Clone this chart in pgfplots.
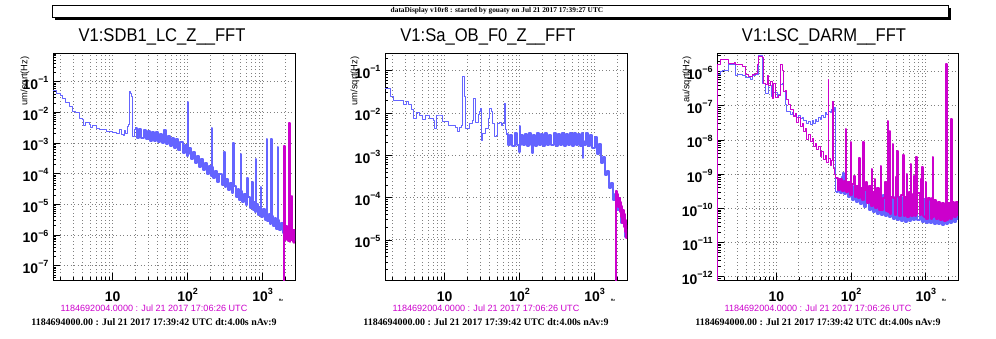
\documentclass[border=0pt]{standalone}
\usepackage{fontspec}
\setmainfont{Liberation Sans}
\newfontfamily\timesf{Liberation Serif}
\newfontfamily\titlefont[FakeStretch=0.9]{Liberation Sans}
\usepackage{pgfplots}
\pgfplotsset{compat=1.18}
\usepackage{pgfplotstable}
\definecolor{cblue}{RGB}{100,100,255}
\definecolor{cmag}{RGB}{204,0,204}
\newcommand{\tenp}[1]{10\raisebox{0.48em}{\fontsize{9}{9}\selectfont\bfseries #1}}

% ---------------- Panel 1 data ----------------
\pgfplotstableread[row sep=\\]{
x y\\
1.6 0.05\\ 1.79 0.04\\ 2.0 0.035\\ 2.15 0.029\\ 2.38 0.021\\ 2.64 0.015\\ 2.87 0.011\\ 3.17 0.0098\\
3.59 0.0064\\ 3.9 0.006\\ 4.05 0.0036\\ 4.4 0.0048\\ 4.87 0.004\\ 5.1 0.0032\\ 5.4 0.0037\\ 6.1 0.003\\
6.6 0.0028\\ 7.4 0.0027\\ 8.2 0.0024\\ 9.2 0.0023\\ 10 0.0022\\ 11.3 0.0021\\ 12.5 0.0027\\ 13.2 0.0019\\
13.8 0.0018\\ 14.5 0.0026\\ 15 0.002\\ 15.6 0.0035\\ 16.3 0.0039\\ 17.0 0.047\\ 17.5 0.04\\ 17.9 0.033\\
18.5 0.0016\\ 19.8 0.0027\\ 20 3.0e-3\\
}\pA
\pgfplotstableread[row sep=\\]{
x y\\
20 3.0e-3\\ 21.3 1.5e-3\\ 22.7 2.9e-3\\ 24.2 1.45e-3\\ 25.8 2.7e-3\\ 27.5 1.35e-3\\ 29.3 2.5e-3\\ 31.2 1.2e-3\\
33.2 2.3e-3\\ 35.4 1.15e-3\\ 37.7 2.2e-3\\ 40.1 1.05e-3\\ 42.7 2.0e-3\\ 45.5 1.0e-3\\ 48.5 2.6e-3\\ 51.6 9e-4\\
55 1.7e-3\\ 58.6 8e-4\\ 62.4 1.5e-3\\ 66.4 7e-4\\ 70.7 1.3e-3\\ 75.3 6e-4\\ 80.2 1.05e-3\\ 85.4 4.8e-4\\
91 8.4e-4\\ 96.9 3.8e-4\\ 100 2.2e-2\\ 101.2 4.5e-4\\ 103 6.7e-4\\ 110 3e-4\\ 117 5.2e-4\\ 125 2.3e-4\\
133 3.9e-4\\ 141 1.7e-4\\ 151 2.9e-4\\ 160 1.3e-4\\ 171 2.3e-4\\ 182 1.0e-4\\ 194 1.8e-4\\ 202 8.5e-5\\
209 3e-3\\ 211.5 1.6e-4\\ 220 7.2e-5\\ 234 1.25e-4\\ 249 5.5e-5\\ 265 9.7e-5\\ 283 4.3e-5\\ 296 8e-5\\
308 5.2e-4\\ 311.5 3.6e-5\\ 320 6.6e-5\\ 341 2.9e-5\\ 363 5.1e-5\\ 387 2.3e-5\\ 405 1e-3\\ 409.5 4.0e-5\\
439 1.75e-5\\ 468 3.1e-5\\ 490 1.4e-5\\ 508 4.4e-4\\ 514 2.7e-5\\ 530 1.2e-5\\ 565 2.1e-5\\ 601 9.5e-6\\
623 7.4e-5\\ 630 1.7e-5\\ 682 7.5e-6\\ 710 1.3e-5\\ 726 5.3e-5\\ 734 6.5e-6\\ 774 1.15e-5\\ 800 5.5e-6\\
815 2.9e-4\\ 824 1e-5\\ 877 4.5e-6\\ 920 8e-6\\ 949 3.6e-5\\ 960 4e-6\\ 1000 7e-6\\ 1060 3.1e-6\\
1100 5.5e-6\\ 1130 1.3e-3\\ 1143 2.8e-6\\ 1202 5e-6\\ 1250 2.3e-6\\ 1303 1.4e-3\\ 1318 4.3e-6\\ 1363 2.0e-6\\
1452 3.5e-6\\ 1520 1.6e-6\\ 1585 7.4e-4\\ 1603 3.0e-6\\ 1647 1.4e-6\\ 1754 2.5e-6\\ 1868 1.15e-6\\ 1989 2.0e-6\\
2118 9e-7\\ 2256 1.65e-6\\ 2403 7.5e-7\\ 2559 1.35e-6\\ 2700 6.3e-7\\
}\pAb
\pgfplotstableread[row sep=\\]{
x y\\
1940 1e-8\\ 1941 8e-4\\ 1960 1.9e-6\\ 2000 7e-7\\ 2050 2e-6\\ 2100 8e-7\\ 2150 1.8e-6\\ 2200 6.5e-7\\
2260 4.6e-3\\ 2285 1.7e-6\\ 2330 6e-7\\ 2350 1.5e-5\\ 2370 1.6e-6\\ 2410 7e-7\\ 2436 1.8e-5\\ 2460 1.5e-6\\
2500 6e-7\\ 2550 1.5e-6\\ 2600 5.5e-7\\ 2650 1.4e-6\\ 2700 6e-7\\
}\pAm

% ---------------- Panel 2 data ----------------
\pgfplotstableread[row sep=\\]{
x y\\
1.6 0.038\\ 1.87 0.025\\ 2.06 0.0195\\ 2.8 0.0155\\ 3.05 0.0185\\ 3.3 0.0155\\ 3.6 0.0118\\ 3.8 0.0075\\
4.2 0.0102\\ 4.6 0.0085\\ 5.1 0.0071\\ 5.6 0.0085\\ 6.3 0.0075\\ 7.0 0.0068\\ 7.3 0.0043\\ 7.7 0.0085\\
8.5 0.0085\\ 9.4 0.0062\\ 10.3 0.0062\\ 11.4 0.0052\\ 12.6 0.005\\ 13.9 0.0046\\ 14.6 0.0036\\ 15.7 0.0045\\
16.8 0.0052\\ 17.5 0.072\\ 18.3 0.024\\ 19 0.0042\\ 21.3 0.0055\\ 23.6 0.0068\\ 24.3 0.0223\\ 25.6 0.006\\
28 0.009\\ 29.3 0.0107\\ 30 0.0125\\ 30.6 0.0023\\ 32 0.0032\\ 35.5 0.0044\\ 38.5 0.0075\\ 40 0.0129\\
41.9 0.011\\ 44 0.0055\\ 46.3 0.0028\\ 49 0.003\\ 51.3 0.0055\\ 54 0.006\\ 56.8 0.005\\ 59.7 0.0058\\
62.7 0.017\\ 64.5 0.004\\ 66.4 3.2e-3\\
}\pB
\pgfplotstableread[row sep=\\]{
x y\\
66.4 3.2e-3\\ 70.7 1.8e-3\\ 75.3 3.0e-3\\ 80.2 1.7e-3\\ 85.4 3.3e-3\\ 91 1.75e-3\\ 96.9 1.2e-3\\ 100 5e-3\\
101.2 1.8e-3\\ 103 3.1e-3\\ 110 1.8e-3\\ 117 3.2e-3\\ 125 1.7e-3\\ 133 3.4e-3\\ 141 1.8e-3\\ 148 1.15e-3\\
149.5 2.2e-3\\ 151 3.0e-3\\ 160 1.7e-3\\ 171 3.3e-3\\ 182 1.8e-3\\ 194 3.2e-3\\ 206 1.7e-3\\ 220 3.3e-3\\
234 1.75e-3\\ 249 3.1e-3\\ 265 1.8e-3\\ 283 3.4e-3\\ 301 1.7e-3\\ 320 3.2e-3\\ 341 1.8e-3\\ 363 3.3e-3\\
387 1.7e-3\\ 412 3.2e-3\\ 439 1.8e-3\\ 468 3.3e-3\\ 498 1.7e-3\\ 530 3.4e-3\\ 565 1.8e-3\\ 601 3.2e-3\\
640 1.7e-3\\ 682 3.3e-3\\ 700 8.5e-4\\ 706 2.2e-3\\ 726 1.8e-3\\ 774 3.3e-3\\ 824 1.7e-3\\ 877 3.0e-3\\
934 1.5e-3\\ 995 2.7e-3\\ 1060 1.1e-3\\ 1129 1.9e-3\\ 1202 6.5e-4\\ 1280 9e-4\\ 1363 3.5e-4\\ 1452 4.2e-4\\
1546 1.7e-4\\ 1647 2.2e-4\\ 1754 9e-5\\ 1868 1.2e-4\\ 1989 5e-5\\ 2118 6.5e-5\\ 2256 2.5e-5\\ 2403 3.5e-5\\
2559 1.2e-5\\ 2700 1.8e-5\\
}\pBb
\pgfplotstableread[row sep=\\]{
x y\\
1924 5e-7\\ 1926 1.4e-4\\ 1960 7e-5\\ 2000 1.2e-4\\ 2050 6e-5\\ 2100 1e-4\\ 2150 4.5e-5\\ 2200 8e-5\\
2250 3.5e-5\\ 2300 6.5e-5\\ 2350 2.5e-5\\ 2400 5e-5\\ 2450 2e-5\\ 2500 4e-5\\ 2550 1.5e-5\\ 2600 3e-5\\
2650 1.1e-5\\ 2700 2.2e-5\\
}\pBm

% ---------------- Panel 3 data ----------------
\pgfplotstableread[row sep=\\]{
x y\\
1.6 8e-7\\ 1.79 1e-6\\ 1.9 1.07e-6\\ 2.31 1.57e-6\\ 2.7 1.57e-6\\ 2.87 7.5e-7\\ 3.0 8.4e-7\\ 3.48 7.5e-7\\
3.86 6.8e-7\\ 4.5 6e-7\\ 4.73 7.7e-7\\ 5.25 8e-7\\ 5.8 2.9e-6\\ 6.6 4.6e-7\\ 7.1 2.3e-7\\ 7.9 4e-7\\
8.7 1.85e-7\\ 9.2 2.5e-7\\ 10.2 1.7e-7\\ 10.7 2.2e-7\\ 11.3 4.1e-7\\ 11.9 4.5e-7\\ 12.5 2.6e-7\\ 13.2 1.06e-7\\
13.8 6.8e-8\\ 14.6 7e-8\\ 15.4 5.5e-8\\ 16.2 6.5e-8\\ 17 5.2e-8\\ 17.9 6e-8\\ 18.8 4.6e-8\\ 19.8 5.2e-8\\
20.9 4.2e-8\\ 22 4.6e-8\\ 23.1 3.6e-8\\ 24.3 3.8e-8\\ 25.6 3.0e-8\\ 27 3.4e-8\\ 28.4 2.9e-8\\ 30 3.6e-8\\
31.4 3.1e-8\\ 33 3.9e-8\\ 34.8 3.5e-8\\ 36.7 4.5e-8\\ 38.6 4.0e-8\\ 40.6 5.2e-8\\ 42.7 4.6e-8\\ 45 6.2e-8\\
47.3 5.5e-8\\ 49.8 7e-8\\ 52.3 6.2e-8\\ 55 8e-8\\ 57 1.3e-7\\ 58.5 7.5e-8\\ 60 9e-8\\ 61 1.5e-9\\ 62.4 3e-10\\
}\pC
\pgfplotstableread[row sep=\\]{
x y\\
62.4 3e-10\\ 66.4 6e-10\\ 70.7 2.8e-10\\ 75.3 8e-10\\ 78 1.1e-9\\ 80.2 2.6e-10\\ 85.4 5.5e-10\\ 91 2.2e-10\\
96.9 5e-10\\ 103 1.8e-10\\ 110 4.5e-10\\ 117 1.5e-10\\ 125 4e-10\\ 133 1.3e-10\\ 141 3.5e-10\\ 151 1.1e-10\\
160 3.2e-10\\ 171 9e-11\\ 182 3e-10\\ 194 8e-11\\ 206 2.8e-10\\ 220 7e-11\\ 234 2.6e-10\\ 249 6.5e-11\\
265 2.5e-10\\ 283 6e-11\\ 301 2.3e-10\\ 320 5.5e-11\\ 341 2.2e-10\\ 363 5e-11\\ 387 2.1e-10\\ 412 4.5e-11\\
439 2.2e-10\\ 468 4.3e-11\\ 498 2.1e-10\\ 530 4e-11\\ 565 2.3e-10\\ 601 4.2e-11\\ 640 2.3e-10\\ 682 4.5e-11\\
726 2.2e-10\\ 774 4.5e-11\\ 824 2.1e-10\\ 877 4e-11\\ 934 1.9e-10\\ 995 3.8e-11\\ 1060 1.7e-10\\ 1129 3.6e-11\\
1202 1.6e-10\\ 1280 3.5e-11\\ 1363 1.4e-10\\ 1452 3.4e-11\\ 1546 1.3e-10\\ 1647 3.3e-11\\ 1754 1.2e-10\\ 1868 3.4e-11\\
1989 1.25e-10\\ 2118 3.6e-11\\ 2256 1.3e-10\\ 2403 4e-11\\ 2559 1.3e-10\\ 2700 4.5e-11\\
}\pCb
\pgfplotstableread[row sep=\\]{
x y\\
1.55 4e-13\\ 1.61 1.6e-6\\ 1.79 2.2e-6\\ 2.09 2.3e-6\\ 2.31 1.75e-6\\ 2.75 1.8e-6\\ 2.87 1.6e-6\\ 3.31 1.6e-6\\
3.48 1.4e-6\\ 3.86 8.5e-7\\ 4.27 7.1e-7\\ 4.73 8e-7\\ 5.25 9e-7\\ 5.5 1.6e-6\\ 5.81 2.75e-6\\ 6.43 2.6e-6\\
6.63 4.6e-7\\ 7.13 4.2e-7\\ 7.5 7.5e-7\\ 7.9 4e-7\\ 8.32 5e-7\\ 8.74 1.67e-7\\ 9.2 4.6e-7\\ 9.7 1.8e-7\\
10.2 1.8e-7\\ 10.7 2e-7\\ 11.3 1.6e-6\\ 11.9 1.1e-6\\ 12.5 2.6e-7\\ 13.2 2.8e-7\\ 13.8 1.5e-7\\ 14.6 1.1e-7\\
15.4 7.6e-8\\ 16.2 8e-8\\ 17 4.8e-8\\ 17.9 6e-8\\ 18.8 3.2e-8\\ 19.8 4.5e-8\\ 20.9 2.5e-8\\ 22 3e-8\\
23.1 1.8e-8\\ 24.3 2.2e-8\\ 25.6 1e-8\\ 27 1.4e-8\\ 28.4 9e-9\\ 30 1.1e-8\\ 31.4 6.4e-9\\ 33 8e-9\\
34.8 5.2e-9\\ 36.7 6.5e-9\\ 38.6 3.3e-9\\ 40.6 4.5e-9\\ 42.7 2.6e-9\\ 45 3.5e-9\\ 47.3 2.2e-9\\ 49.5 5.7e-7\\
50.1 2.8e-9\\ 52.3 1.8e-9\\ 55 2.5e-9\\ 57 1.3e-7\\ 57.6 1.5e-9\\ 60 1.0e-9\\ 62.4 7.5e-10\\
}\pCm
\pgfplotstableread[row sep=\\]{
x y\\
62.4 7.5e-10\\ 66.4 3.5e-10\\ 70.7 7e-10\\ 75.3 3.2e-10\\ 80.2 6.5e-10\\ 84.7 2.1e-8\\ 85.7 3e-10\\ 91 6e-10\\
96.9 2.5e-10\\ 98.7 8.5e-9\\ 99.9 2.5e-10\\ 103 5e-10\\ 110 9e-10\\ 113 2.2e-10\\ 117 4.5e-10\\ 125 2e-10\\
128 3e-9\\ 129.5 2e-10\\ 133 4e-10\\ 141 1.7e-10\\ 146 8.5e-9\\ 147.8 1.7e-10\\ 151 3.5e-10\\ 160 6e-10\\
165 1.4e-10\\ 171 4.5e-10\\ 182 1.2e-10\\ 188 1.4e-9\\ 190 1.2e-10\\ 194 3e-10\\ 206 7e-10\\ 212 1.0e-10\\
220 4e-10\\ 234 9e-11\\ 249 3e-10\\ 251 1.75e-9\\ 254 9e-11\\ 265 2e-10\\ 283 6e-10\\ 290 8.5e-11\\
301 3e-10\\ 308 3.5e-8\\ 311.5 8e-11\\ 320 2.5e-10\\ 331 1.8e-8\\ 335 7e-11\\ 341 2.2e-10\\ 359 7.5e-9\\
363 2e-10\\ 387 6.5e-11\\ 400 8e-10\\ 414 4.8e-9\\ 419 2.2e-10\\ 439 6e-11\\ 468 2.5e-10\\ 498 3.7e-9\\
504 6e-11\\ 530 2.2e-10\\ 560 1e-9\\ 565 5.5e-11\\ 601 3e-10\\ 631 2e-9\\ 638 6e-11\\ 682 2.6e-10\\
700 9e-10\\ 726 6e-11\\ 750 3.1e-9\\ 759 7e-11\\ 774 2.8e-10\\ 824 6.5e-11\\ 850 7e-10\\ 877 2.4e-10\\
901 1.6e-9\\ 911 6e-11\\ 934 5.5e-11\\ 995 6e-10\\ 1010 5e-11\\ 1060 2e-10\\ 1129 1.8e-10\\ 1160 5e-11\\
1202 2e-10\\ 1250 3.1e-9\\ 1265 5.5e-11\\ 1280 1.7e-10\\ 1363 5e-11\\ 1452 1.5e-10\\ 1546 4.5e-11\\ 1647 1.4e-10\\
1754 4.3e-11\\ 1868 1.3e-10\\ 1885 1.7e-6\\ 1907 4.5e-11\\ 1989 1.4e-10\\ 2118 5e-11\\ 2194 4e-8\\ 2220 5e-11\\
2256 1.5e-10\\ 2403 5.5e-11\\ 2559 1.5e-10\\ 2700 6e-11\\
}\pCmb

\pgfplotsset{
  every axis/.append style={
    scale only axis,
    enlargelimits=false,
    axis line style={line width=0.9bp},
    tick align=inside, tick pos=left,
    major tick length=7bp, minor tick length=3.5bp,
    every tick/.style={black, line width=0.7bp},
    xmajorgrids, xminorgrids, ymajorgrids,
    grid style={dash pattern=on 0.9bp off 2.6bp, black!50, line width=0.9bp},
    tick label style={font=\fontsize{14}{14}\selectfont\bfseries},
    xticklabel style={anchor=base, yshift=-21.5bp},
    yticklabel style={anchor=east, xshift=-1bp, yshift=-1.5bp},
  },
  thin trace/.style={const plot, line width=1bp, line join=bevel},
  band trace/.style={const plot, line width=2bp, line join=bevel},
}

\begin{document}
\begin{tikzpicture}
\path[use as bounding box] (0bp,0bp) rectangle (996bp,339bp);
% header
\fill[black] (55bp,319bp) rectangle (951bp,331bp);
\draw[fill=white, line width=0.8bp] (52bp,322bp) rectangle (948bp,334bp);
\node[font=\timesf\bfseries\fontsize{7.4}{8}\selectfont] at (497bp,328bp) {dataDisplay v10r8 : started by gouaty on Jul 21 2017 17:39:27 UTC};

% ---------- Panel 1 ----------
\begin{loglogaxis}[
  width=242bp, height=227bp, xmin=1.6, xmax=2700,
  xtick={10,100,1000}, xticklabels={10,\tenp{2},\tenp{3}},
  minor xtick={2,3,4,5,6,7,8,9,20,30,40,50,60,70,80,90,200,300,400,500,600,700,800,900,2000},
  at={(53bp,59bp)}, anchor=south west,
  ymin=3.4e-8, ymax=0.86,
  ytick={1e-7,1e-6,1e-5,1e-4,1e-3,1e-2,1e-1},
  yticklabels={\tenp{−7},\tenp{−6},\tenp{−5},\tenp{−4},\tenp{−3},\tenp{−2},\tenp{−1}},
  minor ytick={4e-8,5e-8,6e-8,7e-8,8e-8,9e-8,2e-7,3e-7,4e-7,5e-7,6e-7,7e-7,8e-7,9e-7,2e-6,3e-6,4e-6,5e-6,6e-6,7e-6,8e-6,9e-6,2e-5,3e-5,4e-5,5e-5,6e-5,7e-5,8e-5,9e-5,2e-4,3e-4,4e-4,5e-4,6e-4,7e-4,8e-4,9e-4,2e-3,3e-3,4e-3,5e-3,6e-3,7e-3,8e-3,9e-3,2e-2,3e-2,4e-2,5e-2,6e-2,7e-2,8e-2,9e-2,2e-1,3e-1,4e-1,5e-1,6e-1,7e-1,8e-1},
]
\addplot[cblue, thin trace] table {\pA};
\addplot[cblue, band trace] table {\pAb};
\addplot[cmag, band trace] table {\pAm};
\end{loglogaxis}

% ---------- Panel 2 ----------
\begin{loglogaxis}[
  width=242bp, height=227bp, xmin=1.6, xmax=2700,
  xtick={10,100,1000}, xticklabels={10,\tenp{2},\tenp{3}},
  minor xtick={2,3,4,5,6,7,8,9,20,30,40,50,60,70,80,90,200,300,400,500,600,700,800,900,2000},
  at={(385bp,59bp)}, anchor=south west,
  ymin=1.13e-6, ymax=0.262,
  ytick={1e-5,1e-4,1e-3,1e-2,1e-1},
  yticklabels={\tenp{−5},\tenp{−4},\tenp{−3},\tenp{−2},\tenp{−1}},
  minor ytick={2e-6,3e-6,4e-6,5e-6,6e-6,7e-6,8e-6,9e-6,2e-5,3e-5,4e-5,5e-5,6e-5,7e-5,8e-5,9e-5,2e-4,3e-4,4e-4,5e-4,6e-4,7e-4,8e-4,9e-4,2e-3,3e-3,4e-3,5e-3,6e-3,7e-3,8e-3,9e-3,2e-2,3e-2,4e-2,5e-2,6e-2,7e-2,8e-2,9e-2,2e-1},
]
\addplot[cblue, thin trace] table {\pB};
\addplot[cblue, band trace] table {\pBb};
\addplot[cmag, band trace] table {\pBm};
\end{loglogaxis}

% ---------- Panel 3 ----------
\begin{loglogaxis}[
  width=241bp, height=227bp, xmin=1.6, xmax=2700,
  xtick={10,100,1000}, xticklabels={10,\tenp{2},\tenp{3}},
  minor xtick={2,3,4,5,6,7,8,9,20,30,40,50,60,70,80,90,200,300,400,500,600,700,800,900,2000},
  at={(717bp,59bp)}, anchor=south west,
  ymin=8e-13, ymax=3.5e-6,
  ytick={1e-12,1e-11,1e-10,1e-9,1e-8,1e-7,1e-6},
  yticklabels={\tenp{−12},\tenp{−11},\tenp{−10},\tenp{−9},\tenp{−8},\tenp{−7},\tenp{−6}},
  minor ytick={9e-13,2e-12,3e-12,4e-12,5e-12,6e-12,7e-12,8e-12,9e-12,2e-11,3e-11,4e-11,5e-11,6e-11,7e-11,8e-11,9e-11,2e-10,3e-10,4e-10,5e-10,6e-10,7e-10,8e-10,9e-10,2e-9,3e-9,4e-9,5e-9,6e-9,7e-9,8e-9,9e-9,2e-8,3e-8,4e-8,5e-8,6e-8,7e-8,8e-8,9e-8,2e-7,3e-7,4e-7,5e-7,6e-7,7e-7,8e-7,9e-7,2e-6,3e-6},
]
\addplot[cblue, thin trace] table {\pC};
\addplot[cblue, band trace] table {\pCb};
\addplot[cmag, thin trace] table {\pCm};
\addplot[cmag, band trace] table {\pCmb};
\end{loglogaxis}

% titles
\node[font=\titlefont\fontsize{18.5}{19}\selectfont, anchor=base] at (162bp,297bp) {V1:SDB1\_LC\_Z\_\_FFT};
\node[font=\titlefont\fontsize{18.5}{19}\selectfont, anchor=base] at (488bp,297bp) {V1:Sa\_OB\_F0\_Z\_\_FFT};
\node[font=\titlefont\fontsize{18.5}{19}\selectfont, anchor=base] at (824bp,297bp) {V1:LSC\_DARM\_\_FFT};

% y labels
\node[rotate=90, anchor=east, font=\fontsize{9.4}{10}\selectfont] at (25bp,286bp) {um/sqrt(Hz)};
\node[rotate=90, anchor=east, font=\fontsize{9.4}{10}\selectfont] at (355bp,286bp) {um/sqrt(Hz)};
\node[rotate=90, anchor=east, font=\fontsize{9.4}{10}\selectfont] at (687bp,286bp) {au/sqrt(Hz)};

% x unit marks
\node[font=\fontsize{3.5}{4}\selectfont\bfseries, anchor=base] at (281bp,38bp) {Hz};
\node[font=\fontsize{3.5}{4}\selectfont\bfseries, anchor=base] at (613bp,38bp) {Hz};
\node[font=\fontsize{3.5}{4}\selectfont\bfseries, anchor=base] at (944bp,38bp) {Hz};

% footers
\node[font=\fontsize{9.1}{10}\selectfont, text=cmag, anchor=base] at (154bp,27.5bp) {1184692004.0000 : Jul 21 2017 17:06:26 UTC};
\node[font=\timesf\bfseries\fontsize{10}{11}\selectfont, anchor=base] at (154bp,14bp) {1184694000.00 : Jul 21 2017 17:39:42 UTC dt:4.00s nAv:9};
\node[font=\fontsize{9.1}{10}\selectfont, text=cmag, anchor=base] at (486bp,27.5bp) {1184692004.0000 : Jul 21 2017 17:06:26 UTC};
\node[font=\timesf\bfseries\fontsize{10}{11}\selectfont, anchor=base] at (486bp,14bp) {1184694000.00 : Jul 21 2017 17:39:42 UTC dt:4.00s nAv:9};
\node[font=\fontsize{9.1}{10}\selectfont, text=cmag, anchor=base] at (818bp,27.5bp) {1184692004.0000 : Jul 21 2017 17:06:26 UTC};
\node[font=\timesf\bfseries\fontsize{10}{11}\selectfont, anchor=base] at (818bp,14bp) {1184694000.00 : Jul 21 2017 17:39:42 UTC dt:4.00s nAv:9};
\end{tikzpicture}
\end{document}
